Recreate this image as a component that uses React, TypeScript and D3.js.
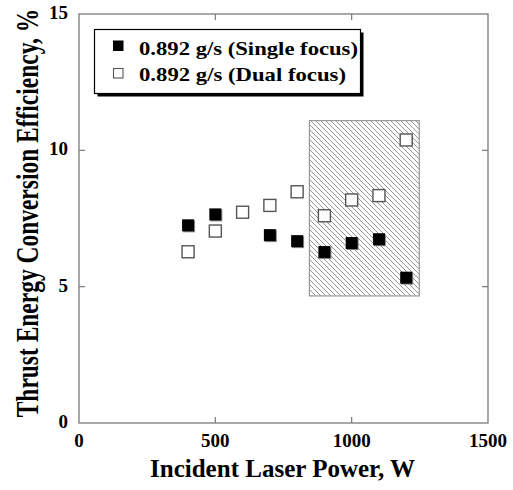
import React from "react";
import * as d3 from "d3";

// Incident laser power (W) and thrust energy conversion efficiency (%)
const powerSingle = [400, 500, 700, 800, 900, 1000, 1100, 1200];
const effSingle = [7.25, 7.65, 6.89, 6.67, 6.27, 6.6, 6.74, 5.33];

const powerDual = [400, 500, 600, 700, 800, 900, 1000, 1100, 1200];
const effDual = [6.28, 7.04, 7.73, 7.98, 8.48, 7.6, 8.18, 8.34, 10.38];

const xTicks = [0, 500, 1000, 1500];
const yTicks = [0, 5, 10, 15];

// Shaded region of interest: power range and efficiency range
const regionPower = [845, 1248];
const regionEff = [4.66, 11.09];

const legendLabels = ["0.892 g/s (Single focus)", "0.892 g/s (Dual focus)"];

const W = 513;
const H = 490;
const left = 79;
const right = 488;
const top = 14;
const bottom = 423;
const FONT = "'Liberation Serif', 'Times New Roman', serif";
const AXIS = "#7a7a7a";

export default function App() {
  const x = d3.scaleLinear().domain([0, 1500]).range([left, right]);
  const y = d3.scaleLinear().domain([0, 15]).range([bottom, top]);
  const s = 12;

  return (
    <svg
      width={W}
      height={H}
      style={{ position: "absolute", left: 0, top: 0, background: "#fff" }}
      fontFamily={FONT}
    >
      <defs>
        <pattern id="hatch" patternUnits="userSpaceOnUse" width={5} height={5}>
          <rect width={5} height={5} fill="#fff" />
          <path d="M-1,-1 L6,6 M-1,4 L1,6 M4,-1 L6,1" stroke="#8a8a8a" strokeWidth={0.9} />
        </pattern>
      </defs>

      {/* shaded region */}
      <rect
        x={x(regionPower[0])}
        y={y(regionEff[1])}
        width={x(regionPower[1]) - x(regionPower[0])}
        height={y(regionEff[0]) - y(regionEff[1])}
        fill="url(#hatch)"
        stroke="#999"
        strokeWidth={1.2}
      />

      {/* frame */}
      <rect x={left} y={top} width={right - left} height={bottom - top} fill="none" stroke={AXIS} strokeWidth={1.3} />

      {/* ticks */}
      {xTicks.slice(1, -1).map((t) => (
        <g key={"xt" + t}>
          <line x1={x(t)} x2={x(t)} y1={bottom} y2={bottom - 6} stroke={AXIS} strokeWidth={1.2} />
          <line x1={x(t)} x2={x(t)} y1={top} y2={top + 6} stroke={AXIS} strokeWidth={1.2} />
        </g>
      ))}
      {yTicks.slice(1, -1).map((t) => (
        <g key={"yt" + t}>
          <line x1={left} x2={left + 6} y1={y(t)} y2={y(t)} stroke={AXIS} strokeWidth={1.2} />
          <line x1={right} x2={right - 6} y1={y(t)} y2={y(t)} stroke={AXIS} strokeWidth={1.2} />
        </g>
      ))}

      {/* tick labels */}
      {xTicks.map((t) => (
        <text key={"xl" + t} x={x(t)} y={bottom + 24} textAnchor="middle" fontSize={19} fontWeight="bold">
          {t}
        </text>
      ))}
      {yTicks.map((t) => (
        <text key={"yl" + t} x={68} y={y(t) + 5} textAnchor="end" fontSize={19} fontWeight="bold">
          {t}
        </text>
      ))}

      {/* axis titles */}
      <text
        x={150}
        y={477}
        fontSize={25}
        fontWeight="bold"
        textLength={265}
        lengthAdjust="spacingAndGlyphs"
      >
        Incident Laser Power, W
      </text>
      <text
        transform="translate(38, 213) rotate(-90) scale(0.757, 1)"
        textAnchor="middle"
        fontSize={31}
        fontWeight="bold"
      >
        Thrust Energy Conversion Efficiency, %
      </text>

      {/* dual focus: open squares */}
      {powerDual.map((p, i) => (
        <rect
          key={"d" + i}
          x={x(p) - s / 2}
          y={y(effDual[i]) - s / 2}
          width={s}
          height={s}
          fill="#fff"
          stroke="#555"
          strokeWidth={1.4}
        />
      ))}

      {/* single focus: filled squares with slight shadow */}
      {powerSingle.map((p, i) => (
        <g key={"s" + i}>
          <rect x={x(p) - s / 2 + 1} y={y(effSingle[i]) - s / 2 + 1} width={s} height={s} fill="#888" />
          <rect x={x(p) - s / 2} y={y(effSingle[i]) - s / 2} width={s} height={s} fill="#000" />
        </g>
      ))}

      {/* legend */}
      <g>
        <rect x={97.5} y={32.5} width={266} height={64} fill="#000" />
        <rect x={94.5} y={29.5} width={266} height={64} fill="#fff" stroke="#000" strokeWidth={1.2} />
        <rect x={113} y={40.5} width={10.5} height={10.5} fill="#000" />
        <rect x={113.5} y={68.5} width={9.5} height={9.5} fill="#fff" stroke="#555" strokeWidth={1.1} />
        <text x={139} y={55} fontSize={19} fontWeight="bold" textLength={219} lengthAdjust="spacingAndGlyphs">
          {legendLabels[0]}
        </text>
        <text x={139} y={81} fontSize={19} fontWeight="bold" textLength={207} lengthAdjust="spacingAndGlyphs">
          {legendLabels[1]}
        </text>
      </g>
    </svg>
  );
}
